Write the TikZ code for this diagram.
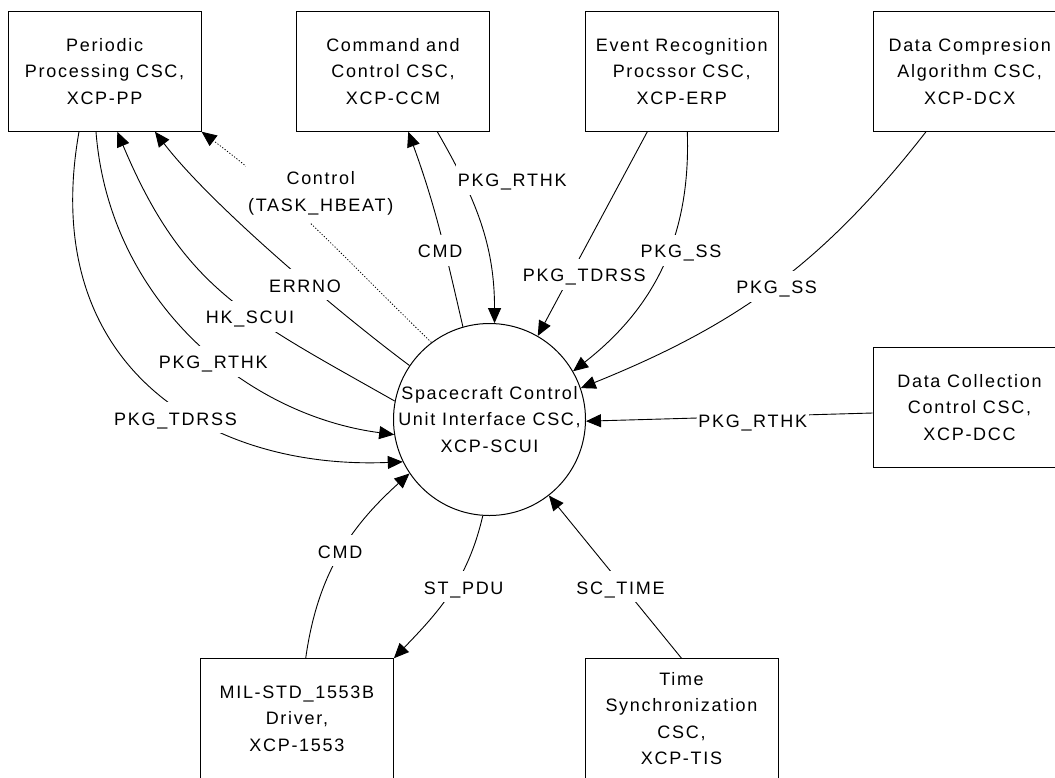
\documentclass[tikz,border=0pt]{standalone}
\usepackage{fontspec}
\setmainfont[LetterSpace=9.5]{Liberation Sans}
\usetikzlibrary{arrows.meta,calc}

\tikzset{
  every node/.style={font=\fontsize{18pt}{26.6pt}\selectfont},
  blk/.style={draw, line width=1pt, minimum width=193pt, minimum height=119.5pt,
              align=center, inner sep=0pt},
  bubble/.style={draw, circle, line width=1pt, minimum size=192pt, inner sep=0pt},
  flow/.style={line width=0.9pt, -{Triangle[length=15pt,width=13pt]}},
  ctlflow/.style={flow, line width=0.8pt, dash pattern=on 1.2pt off 1.8pt},
  lbl/.style={fill=white, inner xsep=1.5pt, inner ysep=0pt, text height=23pt, text depth=8pt},
  lbltwo/.style={fill=white, align=center, inner xsep=2pt, inner ysep=8pt},
}

\begin{document}
\begin{tikzpicture}[x=1pt,y=1pt]
  \useasboundingbox (0,0) rectangle (1055,-777);
  \clip (0,0) rectangle (1055,-777);

  % software components
  \node[blk] (pp)  at (104.6,-71.5) {Periodic\\Processing CSC,\\XCP-PP};
  \node[blk] (ccm) at (393,-71.5)   {Command and\\Control CSC,\\XCP-CCM};
  \node[blk] (erp) at (681.7,-71.5) {Event Recognition\\Procssor CSC,\\XCP-ERP};
  \node[blk] (dcx) at (969.7,-71.5) {Data Compresion\\Algorithm CSC,\\XCP-DCX};
  \node[blk] (dcc) at (969.5,-407.3) {Data Collection\\Control CSC,\\XCP-DCC};
  \node[blk] (mil) at (296.9,-718.5) {MIL-STD\_1553B\\Driver,\\XCP-1553};
  \node[blk] (tis) at (681.5,-718.5) {Time\\Synchronization\\CSC,\\XCP-TIS};

  % central process
  \node[bubble] (scui) at (489.5,-419.5) {};
  \node[align=center, inner sep=0pt] (scuitext) at (scui.center)
       {Spacecraft Control\\Unit Interface CSC,\\XCP-SCUI};

  % flows to and from the periodic processing CSC
  \draw[flow] ([xshift=-25.6pt]pp.south) .. controls (37.2,-367.4) and (210,-470) .. (scui.206.6);
  \draw[flow] ([xshift=-8.6pt]pp.south) .. controls (109,-300) and (245,-415) .. (scui.189.7);
  \draw[flow] (scui.169.5) .. controls (246.1,-316.7) and (183.8,-289.9) .. ([xshift=12.7pt]pp.south);
  \draw[flow] (scui.146.2) .. controls (336.1,-310.8) and (210.4,-204.2) .. ([xshift=50.4pt]pp.south);
  \draw[ctlflow] (scui.127.7) to[out=136,in=-37] (pp.south east);

  % command and control CSC
  \draw[flow] (scui.106) to[out=103,in=-70] ([xshift=15.3pt]ccm.south);
  \draw[flow] ([xshift=44.3pt]ccm.south) to[out=-60,in=90] (scui.87.2);

  % event recognition and data compression
  \draw[flow] ([xshift=-34.4pt]erp.south) -- (scui.60.8);
  \draw[flow] ([xshift=5.6pt]erp.south) to[out=-88,in=38] (scui.30.4);
  \draw[flow] ([xshift=-43.7pt]dcx.south) to[out=232,in=22] (scui.19.3);

  % data collection
  \draw[flow] ([yshift=-5.7pt]dcc.west) -- (scui.359.1);

  % bus driver and time synchronization
  \draw[flow] ([xshift=8.8pt]mil.north) to[out=82,in=222] (scui.214.7);
  \draw[flow] (scui.266.3) to[out=257,in=46] (mil.north east);
  \draw[flow] (tis.north) -- (scui.308.4);

  % flow labels
  \node[lbl] (lTDa) at (175.5,-417.8) {PKG\_TDRSS};
  \node[lbl] (lRTa) at (213.3,-361)   {PKG\_RTHK};
  \node[lbl] (lHK)  at (250,-316)     {HK\_SCUI};
  \node[lbl] (lER)  at (305,-284.5)   {ERRNO};
  \node[lbltwo] (lCtl) at (320.7,-193.4) {Control\\(TASK\_HBEAT)};
  \node[lbl] (lCMDa) at (440.2,-250.3) {CMD};
  \node[lbl] (lRTb) at (512.2,-179)   {PKG\_RTHK};
  \node[lbl] (lTDb) at (584.2,-274.3) {PKG\_TDRSS};
  \node[lbl] (lSSa) at (681,-250)     {PKG\_SS};
  \node[lbl] (lSSb) at (776.7,-286)   {PKG\_SS};
  \node[lbl] (lRTc) at (752.7,-419.7) {PKG\_RTHK};
  \node[lbl] (lCMDb) at (340.2,-550.7) {CMD};
  \node[lbl] (lPDU) at (463.7,-586.7) {ST\_PDU};
  \node[lbl] (lTIME) at (620.5,-586.7) {SC\_TIME};
\end{tikzpicture}
\end{document}
